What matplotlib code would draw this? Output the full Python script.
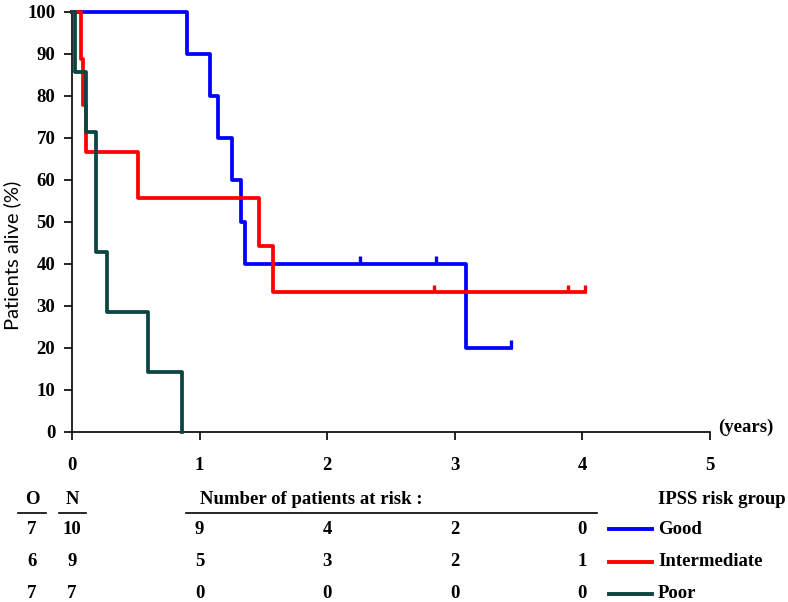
import matplotlib
matplotlib.use("Agg")
import matplotlib.pyplot as plt
from matplotlib.transforms import blended_transform_factory

# Kaplan-Meier curves (years, % alive)
good_t = [0, 0.90, 1.08, 1.147, 1.256, 1.324, 1.356, 3.088, 3.44]
good_s = [100, 90, 80, 70, 60, 50, 40, 20, 20]
good_cens = [2.26, 2.85, 3.44]
good_cens_s = [40, 40, 20]

inter_t = [0, 0.068, 0.089, 0.107, 0.517, 1.466, 1.578, 4.02]
inter_s = [100, 88.9, 77.8, 66.7, 55.6, 44.4, 33.3, 33.3]
inter_cens = [2.84, 3.89, 4.02]
inter_cens_s = [33.3, 33.3, 33.3]

poor_t = [0, 0.02, 0.107, 0.188, 0.277, 0.593, 0.862]
poor_s = [100, 85.7, 71.4, 42.9, 28.6, 14.3, 0]

groups = ["Good", "Intermediate", "Poor"]
colors = ["#0000ff", "#ff0000", "#0b4541"]
observed = [7, 6, 7]
totals = [10, 9, 7]
at_risk = [[9, 4, 2, 0], [5, 3, 2, 1], [0, 0, 0, 0]]
risk_years = [1, 2, 3, 4]

serif = {"family": "Liberation Serif", "weight": "bold", "size": 13.5}

fig = plt.figure(figsize=(7.88, 6.02), dpi=100)
ax = fig.add_axes([72 / 788, 1 - 432 / 602, 638 / 788, 420 / 602])

curves = [(good_t, good_s), (inter_t, inter_s), (poor_t, poor_s)]
for (t, s), c in zip(curves, colors):
    ax.step(t, s, where="post", color=c, lw=2.7, clip_on=False, zorder=3)

for cens, cs, c in [(good_cens, good_cens_s, colors[0]),
                    (inter_cens, inter_cens_s, colors[1])]:
    ax.vlines(cens, cs, [v + 1.8 for v in cs], color=c, lw=2.4, zorder=3)

ax.set_xlim(0, 5)
ax.set_ylim(0, 100)
for side in ["top", "right"]:
    ax.spines[side].set_visible(False)
for side in ["left", "bottom"]:
    ax.spines[side].set_linewidth(1.2)
ax.set_xticks(range(6))
ax.set_yticks(range(0, 101, 10))
ax.tick_params(axis="both", direction="out", length=6, width=1.2, pad=6)
ax.tick_params(axis="x", pad=12)
for lbl in ax.get_xticklabels() + ax.get_yticklabels():
    lbl.set_family(serif["family"])
    lbl.set_weight("bold")
    lbl.set_size(serif["size"])

ax.set_ylabel("Patients alive (%)", family="Lato", fontsize=14.5)
ax.yaxis.set_label_coords(-0.08, 0.42)
ax.text(5.06, 1, "(years)", ha="left", va="center", **serif)

# table below the plot
tr = blended_transform_factory(ax.transData, fig.transFigure)
ff = fig.transFigure


def fy(py):
    return 1 - py / 602


fig.text(32 / 788, fy(500), "O", ha="center", va="center", **serif)
fig.text(72 / 788, fy(500), "N", ha="center", va="center", **serif)
fig.text(200 / 788, fy(500), "Number of patients at risk :", ha="left",
         va="center", **serif)
fig.text(658 / 788, fy(500), "IPSS risk group", ha="left", va="center",
         **serif)
for x0, x1 in [(18, 46), (59, 86), (186, 597)]:
    fig.add_artist(plt.Line2D([x0 / 788, x1 / 788], [fy(513), fy(513)],
                              color="black", lw=1.2, transform=ff))

rows_y = [529, 562, 594]
for i, g in enumerate(groups):
    y = fy(rows_y[i])
    fig.text(32 / 788, y, str(observed[i]), ha="center", va="center", **serif)
    fig.text(72 / 788, y, str(totals[i]), ha="center", va="center", **serif)
    for yr, n in zip(risk_years, at_risk[i]):
        ax.text(yr, y, str(n), ha="center", va="center", transform=tr,
                **serif)
    fig.add_artist(plt.Line2D([609 / 788, 652 / 788], [y, y],
                              color=colors[i], lw=2.8, transform=ff))
    fig.text(658 / 788, y, g, ha="left", va="center", **serif)

fig.savefig("out.png", dpi=100)
